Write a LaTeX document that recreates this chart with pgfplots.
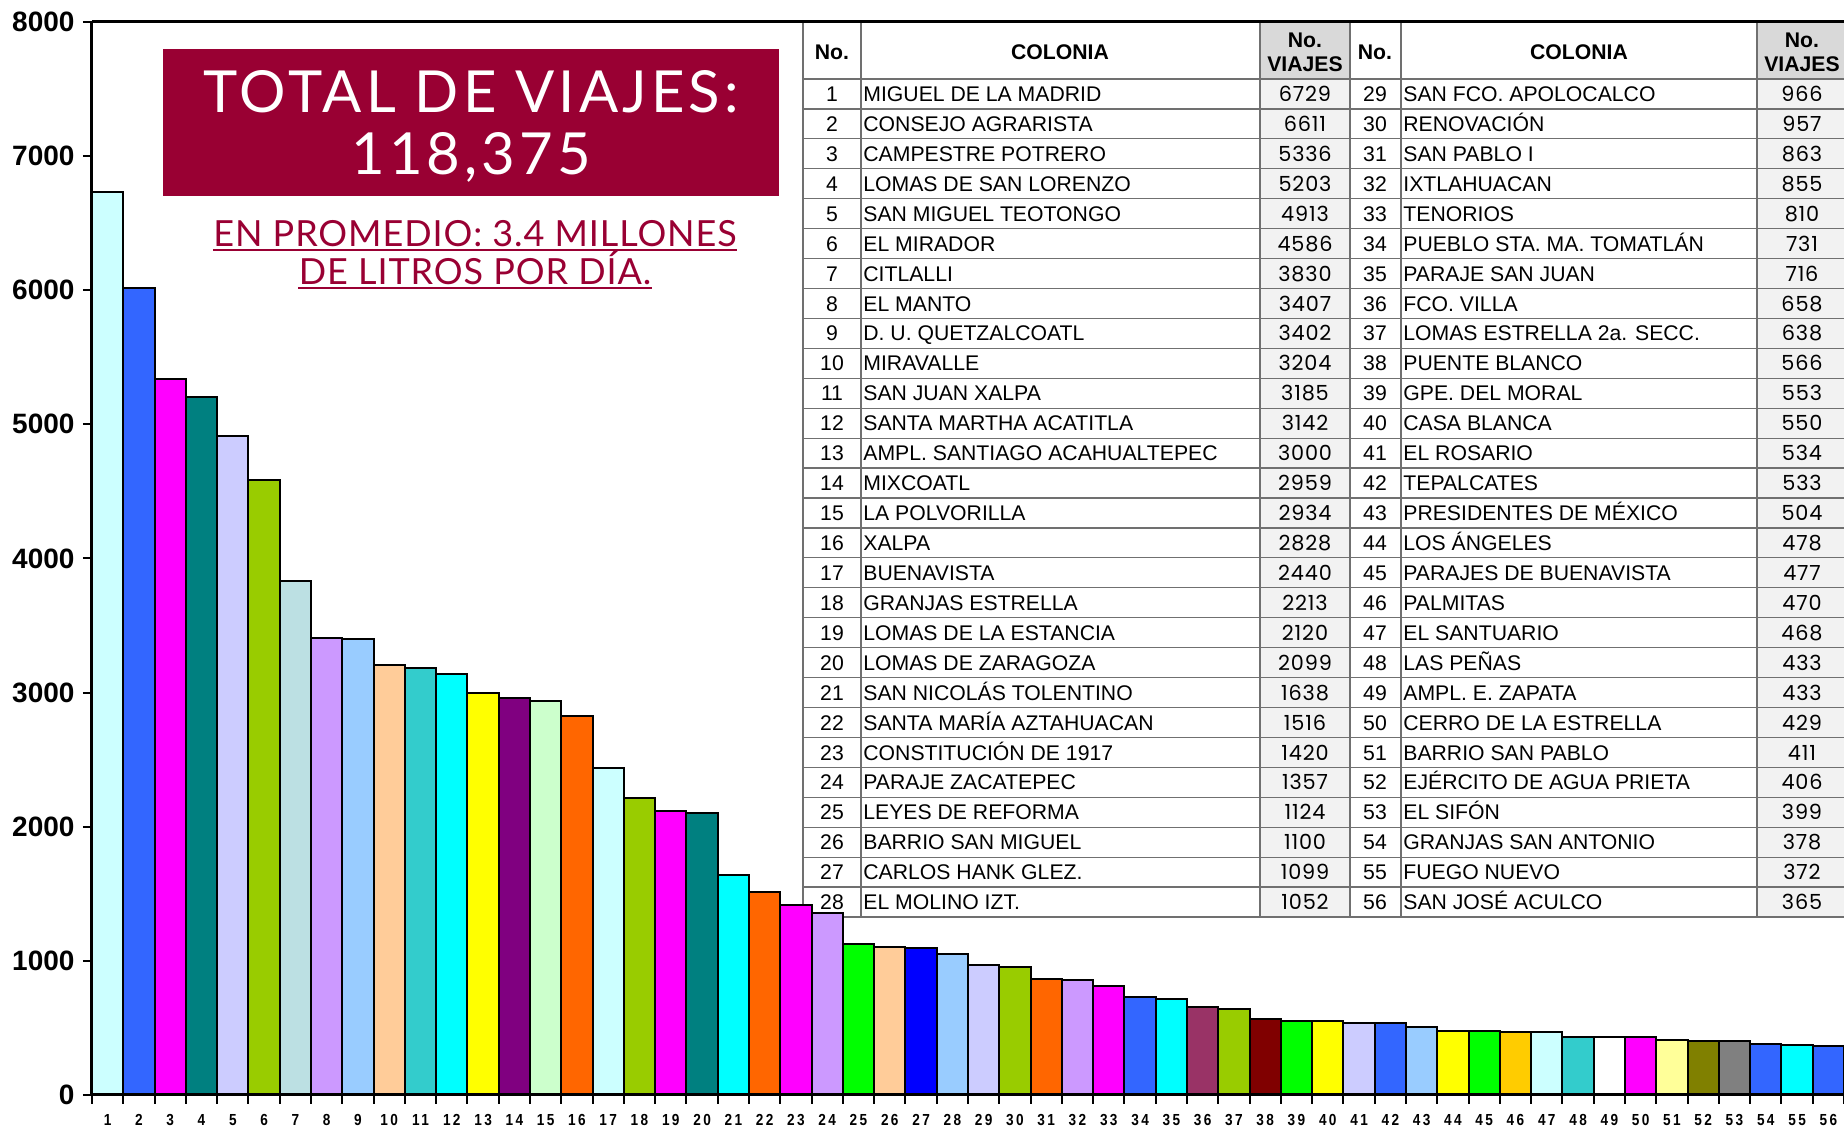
\documentclass[border=0pt]{standalone}
\usepackage{pgfplots}
\pgfplotsset{compat=1.18}
\usepackage{fontspec}
\setmainfont{Liberation Sans}
\newfontfamily\tickfont[FakeStretch=0.85,LetterSpace=15]{Liberation Sans}
\newfontfamily\numfont[Numbers=Monospaced,LetterSpace=4]{Poppins}
\newfontfamily\titlefont[LetterSpace=7]{Lato}
\newfontfamily\subfont[LetterSpace=2.5]{Lato}

\definecolor{vino}{HTML}{990033}
\definecolor{linea}{HTML}{707070}
\definecolor{encab}{HTML}{D9D9D9}
\definecolor{celda}{HTML}{F2F2F2}

% one bar per colonia, each with its own colour
\newcommand\barra[3]{%
  \xglobal\definecolor{bar#1}{HTML}{#3}%
  \addplot[ybar, bar width=1, bar shift=0pt, fill=bar#1, draw=black, line width=1pt]
    coordinates {(#1,#2)};}

% table row: index, no., colonia, viajes, no., colonia, viajes
\newcommand\fila[7]{%
  \pgfmathsetmacro\yb{79+(#1-0.5)*29.93+7.6}%
  \node[anchor=base] at (832,\yb) {#2};
  \node[anchor=base west] at (863,\yb) {#3};
  \node[anchor=base, font=\numfont\fontsize{10.4}{12}\selectfont] at (1305,\yb) {#4};
  \node[anchor=base] at (1375,\yb) {#5};
  \node[anchor=base west] at (1403,\yb) {#6};
  \node[anchor=base, font=\numfont\fontsize{10.4}{12}\selectfont] at (1802,\yb) {#7};}

\begin{document}
\begin{tikzpicture}
% overlay in image pixels, origin top left (drawn first, bars go over it)
\begin{scope}[shift={(-46pt,547.5pt)}, x=0.5pt, y=-0.5pt]
  % title box
  \fill[vino] (163,49) rectangle (779,196);
  \node[anchor=base, text=white, font=\titlefont\fontsize{29}{29}\selectfont] at (471,113) {TOTAL DE VIAJES:};
  \node[anchor=base, text=white, font=\titlefont\fontsize{29}{29}\selectfont] at (471,175) {118,375};
  \node[anchor=base, inner sep=0, text=vino, font=\subfont\fontsize{18}{18}\selectfont] (s1) at (475,247) {EN PROMEDIO: 3.4 MILLONES};
  \node[anchor=base, inner sep=0, text=vino, font=\subfont\fontsize{18}{18}\selectfont] (s2) at (475,285) {DE LITROS POR DÍA.};
  \draw[vino, line width=1pt] ([yshift=-1.6pt]s1.base west) -- ([yshift=-1.6pt]s1.base east);
  \draw[vino, line width=1pt] ([yshift=-1.6pt]s2.base west) -- ([yshift=-1.6pt]s2.base east);

  % table
  \fill[white] (803,21) rectangle (1847,917);
  \fill[encab] (1260,21) rectangle (1350,79);
  \fill[encab] (1757,21) rectangle (1847,79);
  \fill[celda] (1260,79) rectangle (1350,917);
  \fill[celda] (1757,79) rectangle (1847,917);
  \foreach \k in {0,...,28} \draw[linea, line width=0.6pt] (803,79+\k*29.93) -- (1847,79+\k*29.93);
  \foreach \xv in {803,861,1260,1350,1401,1757} \draw[linea, line width=0.6pt] (\xv,21) -- (\xv,917);
  \draw[black, line width=1.5pt] (92,22) -- (1847,22);

  \begin{scope}[font=\fontsize{10.6}{12}\selectfont, inner sep=0]
  \node[font=\bfseries\fontsize{10.6}{12}\selectfont] at (832,52) {No.};
  \node[font=\bfseries\fontsize{10.6}{12}\selectfont] at (1060,52) {COLONIA};
  \node[font=\bfseries\fontsize{10.6}{12}\selectfont] at (1305,40) {No.};
  \node[font=\bfseries\fontsize{10.6}{12}\selectfont] at (1305,64) {VIAJES};
  \node[font=\bfseries\fontsize{10.6}{12}\selectfont] at (1375,52) {No.};
  \node[font=\bfseries\fontsize{10.6}{12}\selectfont] at (1579,52) {COLONIA};
  \node[font=\bfseries\fontsize{10.6}{12}\selectfont] at (1802,40) {No.};
  \node[font=\bfseries\fontsize{10.6}{12}\selectfont] at (1802,64) {VIAJES};
  \fila{1}{1}{MIGUEL DE LA MADRID}{6729}{29}{SAN FCO. APOLOCALCO}{966}
  \fila{2}{2}{CONSEJO AGRARISTA}{6611}{30}{RENOVACIÓN}{957}
  \fila{3}{3}{CAMPESTRE POTRERO}{5336}{31}{SAN PABLO I}{863}
  \fila{4}{4}{LOMAS DE SAN LORENZO}{5203}{32}{IXTLAHUACAN}{855}
  \fila{5}{5}{SAN MIGUEL TEOTONGO}{4913}{33}{TENORIOS}{810}
  \fila{6}{6}{EL MIRADOR}{4586}{34}{PUEBLO STA. MA. TOMATLÁN}{731}
  \fila{7}{7}{CITLALLI}{3830}{35}{PARAJE SAN JUAN}{716}
  \fila{8}{8}{EL MANTO}{3407}{36}{FCO. VILLA}{658}
  \fila{9}{9}{D. U. QUETZALCOATL}{3402}{37}{LOMAS ESTRELLA 2a. SECC.}{638}
  \fila{10}{10}{MIRAVALLE}{3204}{38}{PUENTE BLANCO}{566}
  \fila{11}{11}{SAN JUAN XALPA}{3185}{39}{GPE. DEL MORAL}{553}
  \fila{12}{12}{SANTA MARTHA ACATITLA}{3142}{40}{CASA BLANCA}{550}
  \fila{13}{13}{AMPL. SANTIAGO ACAHUALTEPEC}{3000}{41}{EL ROSARIO}{534}
  \fila{14}{14}{MIXCOATL}{2959}{42}{TEPALCATES}{533}
  \fila{15}{15}{LA POLVORILLA}{2934}{43}{PRESIDENTES DE MÉXICO}{504}
  \fila{16}{16}{XALPA}{2828}{44}{LOS ÁNGELES}{478}
  \fila{17}{17}{BUENAVISTA}{2440}{45}{PARAJES DE BUENAVISTA}{477}
  \fila{18}{18}{GRANJAS ESTRELLA}{2213}{46}{PALMITAS}{470}
  \fila{19}{19}{LOMAS DE LA ESTANCIA}{2120}{47}{EL SANTUARIO}{468}
  \fila{20}{20}{LOMAS DE ZARAGOZA}{2099}{48}{LAS PEÑAS}{433}
  \fila{21}{21}{SAN NICOLÁS TOLENTINO}{1638}{49}{AMPL. E. ZAPATA}{433}
  \fila{22}{22}{SANTA MARÍA AZTAHUACAN}{1516}{50}{CERRO DE LA ESTRELLA}{429}
  \fila{23}{23}{CONSTITUCIÓN DE 1917}{1420}{51}{BARRIO SAN PABLO}{411}
  \fila{24}{24}{PARAJE ZACATEPEC}{1357}{52}{EJÉRCITO DE AGUA PRIETA}{406}
  \fila{25}{25}{LEYES DE REFORMA}{1124}{53}{EL SIFÓN}{399}
  \fila{26}{26}{BARRIO SAN MIGUEL}{1100}{54}{GRANJAS SAN ANTONIO}{378}
  \fila{27}{27}{CARLOS HANK GLEZ.}{1099}{55}{FUEGO NUEVO}{372}
  \fila{28}{28}{EL MOLINO IZT.}{1052}{56}{SAN JOSÉ ACULCO}{365}
  \end{scope}
\end{scope}

\begin{axis}[
  at={(0,0)}, anchor=south west,
  scale only axis, width=876pt, height=536.5pt,
  xmin=0.5, xmax=56.5, ymin=0, ymax=8000,
  axis x line*=bottom, axis y line*=left,
  axis line style={black, line width=1.5pt},
  axis on top,
  tick align=outside,
  major tick length=4.5pt,
  tick style={black, line width=1pt},
  xtick={0.5,1.5,...,56.5},
  x tick label as interval,
  xticklabels={1,2,3,4,5,6,7,8,9,10,11,12,13,14,15,16,17,18,19,20,21,22,23,24,25,26,27,28,
    29,30,31,32,33,34,35,36,37,38,39,40,41,42,43,44,45,46,47,48,49,50,51,52,53,54,55,56},
  ytick={0,1000,...,8000},
  scaled y ticks=false,
  /pgf/number format/assume math mode=true,
  /pgf/number format/1000 sep={},
  yticklabel style={font=\fontsize{14}{14}\selectfont\bfseries, xshift=-0.7pt},
  xticklabel style={font=\tickfont\bfseries\fontsize{8}{8}\selectfont, yshift=-1.7pt},
]
\barra{1}{6729}{CCFFFF}
\barra{2}{6020}{3366FF}
\barra{3}{5336}{FF00FF}
\barra{4}{5203}{008080}
\barra{5}{4913}{CCCCFF}
\barra{6}{4586}{99CC00}
\barra{7}{3830}{BCE0E3}
\barra{8}{3407}{CC99FF}
\barra{9}{3402}{99CCFF}
\barra{10}{3204}{FFCC99}
\barra{11}{3185}{33CCCC}
\barra{12}{3142}{00FFFF}
\barra{13}{3000}{FFFF00}
\barra{14}{2959}{800080}
\barra{15}{2934}{CCFFCC}
\barra{16}{2828}{FF6600}
\barra{17}{2440}{CCFFFF}
\barra{18}{2213}{99CC00}
\barra{19}{2120}{FF00FF}
\barra{20}{2099}{008080}
\barra{21}{1638}{00FFFF}
\barra{22}{1516}{FF6600}
\barra{23}{1420}{FF00FF}
\barra{24}{1357}{CC99FF}
\barra{25}{1124}{00FF00}
\barra{26}{1100}{FFCC99}
\barra{27}{1099}{0000FF}
\barra{28}{1052}{99CCFF}
\barra{29}{966}{CCCCFF}
\barra{30}{957}{99CC00}
\barra{31}{863}{FF6600}
\barra{32}{855}{CC99FF}
\barra{33}{810}{FF00FF}
\barra{34}{731}{3366FF}
\barra{35}{716}{00FFFF}
\barra{36}{658}{993366}
\barra{37}{638}{99CC00}
\barra{38}{566}{800000}
\barra{39}{553}{00FF00}
\barra{40}{550}{FFFF00}
\barra{41}{534}{CCCCFF}
\barra{42}{533}{3366FF}
\barra{43}{504}{99CCFF}
\barra{44}{478}{FFFF00}
\barra{45}{477}{00FF00}
\barra{46}{470}{FFCC00}
\barra{47}{468}{CCFFFF}
\barra{48}{433}{33CCCC}
\barra{49}{433}{FFFFFF}
\barra{50}{429}{FF00FF}
\barra{51}{411}{FFFF99}
\barra{52}{406}{808000}
\barra{53}{399}{808080}
\barra{54}{378}{3366FF}
\barra{55}{372}{00FFFF}
\barra{56}{365}{3366FF}
\end{axis}

\pgfresetboundingbox
\useasboundingbox (-46pt,-16pt) rectangle (876pt,547.5pt);
\end{tikzpicture}
\end{document}
